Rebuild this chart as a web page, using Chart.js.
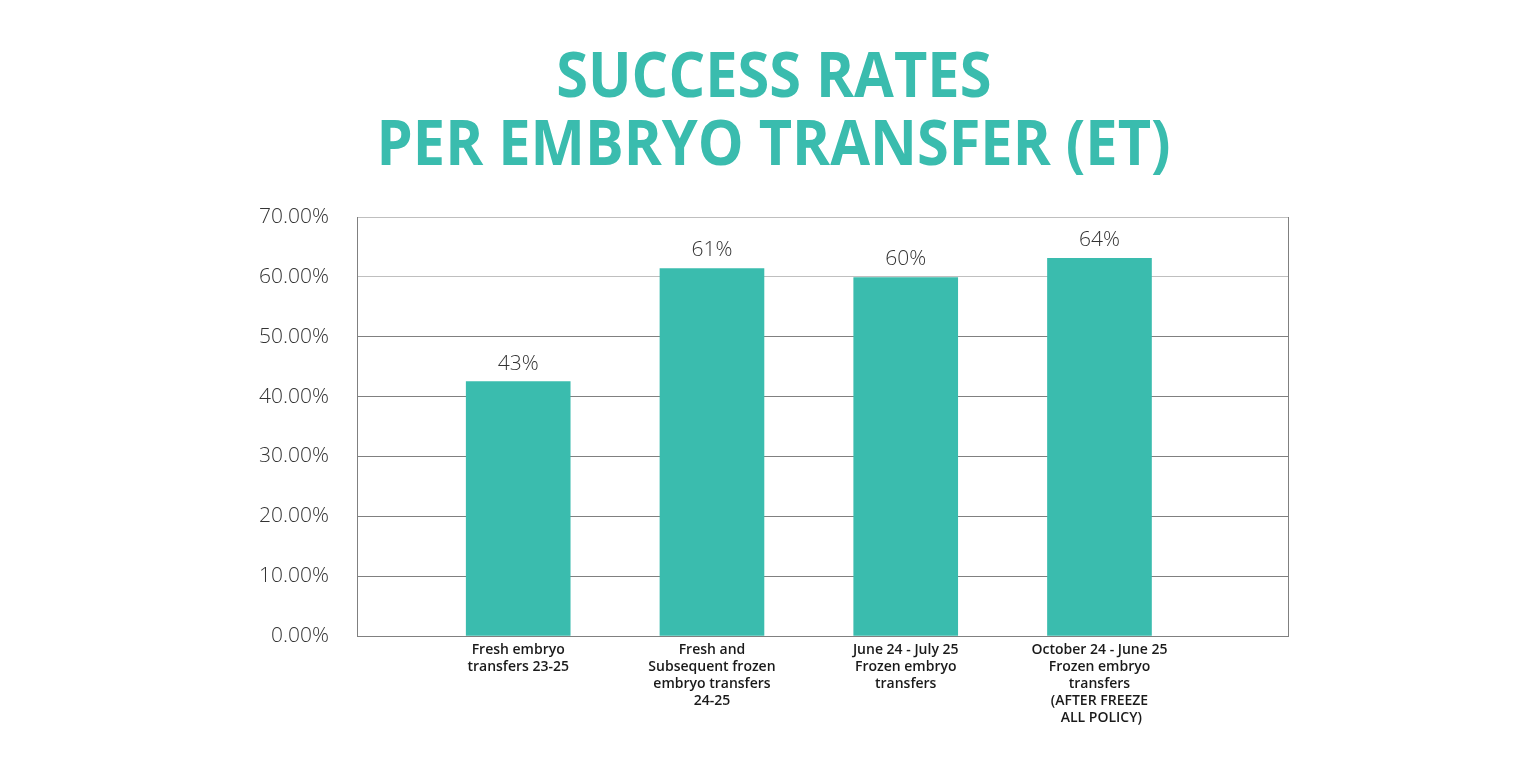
<!DOCTYPE html>
<html>
<head>
<meta charset="utf-8">
<script src="https://cdn.jsdelivr.net/npm/chart.js@4.4.1/dist/chart.umd.min.js"></script>
<style>
  html, body { margin: 0; padding: 0; background: #ffffff; }
  #wrap { position: relative; width: 1536px; height: 763px; overflow: hidden; }
  #chart { position: absolute; left: 0; top: 0; }
  .ttl { position: absolute; left: 6px; width: 1536px; text-align: center; white-space: nowrap;
         font-family: 'Open Sans', sans-serif; font-weight: 700; font-size: 62px; line-height: 68px;
         color: #3abcae; letter-spacing: 0px; }
  .ttl span { display: inline-block; transform-origin: 50% 50%; }
</style>
</head>
<body>
<div id="wrap">
  <div class="ttl" id="t1" style="top:39px"><span>SUCCESS RATES</span></div>
  <div class="ttl" id="t2" style="top:107px"><span>PER EMBRYO TRANSFER (ET)</span></div>
  <canvas id="chart" width="1536" height="763"></canvas>
</div>
<script>
// ---- data ----
const categories = [
  ['Fresh embryo', 'transfers 23-25'],
  ['Fresh and', 'Subsequent frozen', 'embryo transfers', '24-25'],
  ['June 24 - July 25', 'Frozen embryo', 'transfers'],
  ['October 24 - June 25', 'Frozen embryo', 'transfers', '(AFTER FREEZE', ' ALL POLICY)']
];
const successRates = [0.425, 0.614, 0.599, 0.631];
const valueLabels = ['43%', '61%', '60%', '64%'];
const yTickLabels = ['0.00%', '10.00%', '20.00%', '30.00%', '40.00%', '50.00%', '60.00%', '70.00%'];

// ---- title width fit ----
(function fitTitle() {
  const spans = document.querySelectorAll('.ttl span');
  const s2 = spans[1];
  const w = s2.getBoundingClientRect().width;
  const k = 794 / w;
  spans.forEach(s => { s.style.transform = 'scaleX(' + k + ')'; });
})();

const BAR = '#3abcae';

const valueLabelPlugin = {
  id: 'valueLabels',
  afterDatasetsDraw(chart) {
    const ctx = chart.ctx;
    const meta = chart.getDatasetMeta(0);
    ctx.save();
    ctx.font = '300 21px "Open Sans", sans-serif';
    ctx.fillStyle = '#333333';
    ctx.textAlign = 'center';
    ctx.textBaseline = 'alphabetic';
    meta.data.forEach((bar, i) => {
      ctx.fillText(valueLabels[i], bar.x, bar.y - 12);
    });
    ctx.restore();
  }
};

new Chart(document.getElementById('chart'), {
  type: 'bar',
  data: {
    datasets: [{
      data: successRates.map((v, i) => ({ x: i, y: v })),
      backgroundColor: BAR,
      borderWidth: 0,
      barThickness: 104
    }]
  },
  options: {
    responsive: false,
    animation: false,
    devicePixelRatio: 1,
    layout: { autoPadding: false, padding: { top: 217, right: 248, bottom: 0, left: 0 } },
    plugins: { legend: { display: false }, tooltip: { enabled: false }, title: { display: false } },
    scales: {
      x: {
        type: 'linear',
        offset: false,
        min: -0.832,
        max: 3.973,
        grid: { display: false, drawTicks: false },
        border: { display: true, color: '#808080', width: 1 },
        ticks: {
          stepSize: 1,
          includeBounds: false,
          autoSkip: false,
          maxRotation: 0,
          padding: 6,
          color: '#1a1a1a',
          font: { family: 'Open Sans', size: 14, weight: '600', lineHeight: 1.2 },
          callback: (v) => Number.isInteger(v) && categories[v] ? categories[v] : ''
        },
        afterFit: (s) => { s.height = 127; }
      },
      y: {
        min: 0,
        max: 0.7,
        grid: {
          drawTicks: false,
          color: (c) => (c.tick && c.tick.value >= 0.59) ? '#bfbfbf' : '#808080',
          lineWidth: 1
        },
        border: { display: true, color: '#808080', width: 1 },
        ticks: {
          stepSize: 0.1,
          padding: 28,
          color: '#333333',
          font: { family: 'Open Sans', size: 21, weight: '300' },
          callback: (v, i) => yTickLabels[i]
        },
        afterFit: (s) => { s.width = 357; }
      },
      y2: {
        position: 'right',
        display: true,
        min: 0,
        max: 0.7,
        grid: { display: false, drawTicks: false },
        border: { display: true, color: '#808080', width: 1 },
        ticks: { display: false },
        afterFit: (s) => { s.width = 0; }
      }
    }
  },
  plugins: [valueLabelPlugin]
});
</script>
</body>
</html>
